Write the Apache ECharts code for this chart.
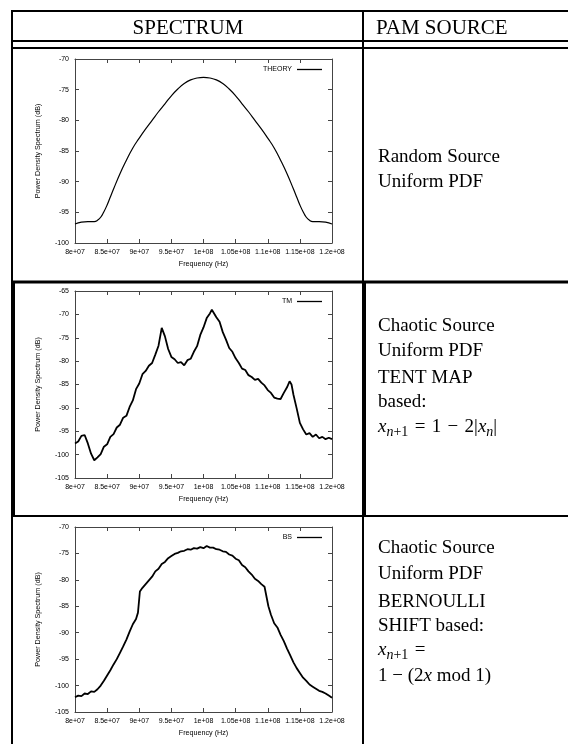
<!DOCTYPE html>
<html>
<head>
<meta charset="utf-8">
<script src="https://cdn.jsdelivr.net/npm/echarts@6/dist/echarts.min.js"></script>
<style>
html,body{margin:0;padding:0;background:#fff;}
#c{width:568px;height:744px;}
</style>
</head>
<body>
<div id="c"></div>
<script>
// ---------- data ----------
const xTickLabels = ['8e+07','8.5e+07','9e+07','9.5e+07','1e+08','1.05e+08','1.1e+08','1.15e+08','1.2e+08'];
// frequency in MHz, PSD in dB
const theoryData = [
 [80,-96.9],[81,-96.6],[82,-96.5],[83,-96.5],[83.5,-96.3],[84,-95.8],[84.5,-94.9],[85,-93.8],[85.5,-92.5],[86,-91.2],
 [87,-88.7],[88,-86.5],[89,-84.5],[90,-82.9],[91,-81.4],[92,-80.0],[93,-78.6],[94,-77.3],[95,-76.0],[96,-74.9],
 [97,-74.0],[98,-73.4],[99,-73.1],[100,-73.0],[101,-73.1],[102,-73.4],[103,-74.0],[104,-74.9],[105,-76.0],[106,-77.3],
 [107,-78.6],[108,-80.0],[109,-81.4],[110,-82.9],[111,-84.5],[112,-86.5],[113,-88.7],[114,-91.2],[114.5,-92.5],[115,-93.8],
 [115.5,-94.9],[116,-95.8],[116.5,-96.3],[117,-96.5],[118,-96.5],[119,-96.6],[120,-96.9]
];
const tmData = [
 [80,-97.6],[80.5,-97.2],[81,-96.0],[81.5,-95.8],[82,-97.6],[82.5,-99.8],[83,-101.2],[83.5,-100.6],[84,-99.9],[84.5,-98.3],
 [85,-97.8],[85.5,-96.2],[86,-95.6],[86.5,-94.2],[87,-93.6],[87.5,-92.1],[88,-91.7],[88.5,-89.8],[89,-88.4],[89.5,-86.0],
 [90,-84.8],[90.5,-82.8],[91,-82.1],[91.5,-81.0],[92,-80.4],[92.5,-78.6],[93,-76.7],[93.5,-72.9],[94,-74.7],[94.5,-77.4],
 [95,-79.1],[95.5,-79.6],[96,-80.4],[96.5,-80.2],[97,-80.9],[97.5,-79.8],[98,-79.5],[98.5,-78.0],[99,-76.8],[99.5,-74.4],
 [100,-72.8],[100.5,-70.8],[101,-69.8],[101.3,-69.0],[101.5,-69.3],[102,-70.6],[102.5,-71.6],[103,-73.8],[103.5,-75.4],[104,-77.2],[104.5,-78.0],
 [105,-79.4],[105.5,-80.4],[106,-81.6],[106.5,-81.9],[107,-83.0],[107.5,-83.4],[108,-84.0],[108.5,-83.8],[109,-84.6],[109.5,-85.2],
 [110,-86.2],[110.5,-86.8],[111,-87.8],[111.5,-88.0],[112,-88.1],[112.5,-86.8],[113,-85.6],[113.4,-84.3],[113.7,-85.0],[114,-87.2],[114.5,-90.1],
 [115,-93.2],[115.5,-94.6],[116,-95.7],[116.5,-95.4],[117,-96.2],[117.5,-95.7],[118,-96.5],[118.5,-96.2],[119,-96.7],[119.5,-96.4],[120,-96.7]
];
const bsData = [
 [80,-102.2],[80.5,-101.9],[81,-102.0],[81.5,-101.5],[82,-101.6],[82.5,-101.1],[83,-101.2],[83.5,-100.7],[84,-100.0],[84.5,-99.1],
 [85,-98.1],[85.5,-97.1],[86,-96.0],[86.5,-95.0],[87,-93.8],[87.5,-92.6],[88,-91.3],[88.5,-89.8],[89,-88.4],[89.5,-87.4],
 [89.8,-86.2],[90.1,-82.2],[90.5,-81.5],[91,-80.8],[91.5,-80.1],[92,-79.4],[92.5,-78.4],[93,-77.9],[93.5,-77.0],[94,-76.6],[94.5,-75.9],
 [95,-75.5],[95.5,-75.1],[96,-74.9],[96.5,-74.6],[97,-74.5],[97.5,-74.2],[98,-74.3],[98.5,-74.0],[99,-74.1],[99.5,-73.8],
 [100,-74.0],[100.5,-73.6],[101,-73.9],[101.5,-73.9],[102,-74.2],[102.5,-74.3],[103,-74.6],[103.5,-74.7],[104,-75.2],[104.5,-75.4],
 [105,-76.0],[105.5,-76.3],[106,-77.2],[106.5,-77.6],[107,-78.4],[107.5,-79.0],[108,-79.8],[108.5,-80.2],[109,-80.8],[109.5,-81.3],
 [109.8,-81.6],[110.1,-85.0],[110.5,-86.6],[111,-88.2],[111.5,-89.0],[112,-90.4],[112.5,-91.6],[113,-93.0],[113.5,-94.3],[114,-95.6],[114.5,-96.7],
 [115,-97.6],[115.5,-98.5],[116,-99.1],[116.5,-99.8],[117,-100.2],[117.5,-100.6],[118,-101.0],[118.5,-101.2],[119,-101.5],[119.5,-101.9],[120,-102.3]
];
const seriesNames = ['THEORY','TM','BS'];
const yRanges = [[-100,-70],[-105,-65],[-105,-70]];
const headerTexts = ['SPECTRUM','PAM SOURCE'];

// ---------- layout ----------
const grids = [
  {left:75, top:59, width:257, height:184},
  {left:75, top:291, width:257, height:187},
  {left:75, top:527, width:257, height:185}
];
const tickFont = {fontSize:7, color:'#000', fontFamily:'Liberation Sans'};
const frame = {show:true, lineStyle:{color:'#444', width:1}};
const tick = {show:true, inside:true, length:4, lineStyle:{color:'#444', width:1}};

const xAxis = [], yAxis = [], series = [], legend = [];
const allData = [theoryData, tmData, bsData];
grids.forEach((g, i) => {
  xAxis.push({type:'value', gridIndex:i, min:80, max:120, interval:5, position:'bottom',
    name:'Frequency (Hz)', nameLocation:'middle', nameGap:18,
    nameTextStyle:{fontSize:7.2, fontFamily:'Liberation Sans', color:'#000'},
    axisLine:frame, axisTick:tick, splitLine:{show:false},
    axisLabel:Object.assign({margin:6, formatter:v => xTickLabels[Math.round((v-80)/5)]}, tickFont)});
  xAxis.push({type:'value', gridIndex:i, min:80, max:120, interval:5, position:'top',
    axisLine:frame, axisTick:tick, splitLine:{show:false}, axisLabel:{show:false}});
  yAxis.push({type:'value', gridIndex:i, min:yRanges[i][0], max:yRanges[i][1], interval:5, position:'left',
    name:'Power Density Spectrum (dB)', nameLocation:'middle', nameGap:33, nameRotate:90,
    nameTextStyle:{fontSize:7.2, fontFamily:'Liberation Sans', color:'#000'},
    axisLine:frame, axisTick:tick, splitLine:{show:false},
    axisLabel:Object.assign({margin:6}, tickFont)});
  yAxis.push({type:'value', gridIndex:i, min:yRanges[i][0], max:yRanges[i][1], interval:5, position:'right',
    axisLine:frame, axisTick:tick, splitLine:{show:false}, axisLabel:{show:false}});
  series.push({type:'line', name:seriesNames[i], xAxisIndex:2*i, yAxisIndex:2*i,
    data:allData[i], showSymbol:false, symbol:'none', smooth:i===0,
    lineStyle:{color:'#000', width:i===0?1.2:1.8}, itemStyle:{color:'#000'}});
  legend.push({data:[seriesNames[i]], right:241, top:g.top+2, align:'right', icon:'rect',
    itemWidth:25, itemHeight:1.3, itemGap:0, textStyle:{fontSize:7, fontFamily:'Liberation Sans', color:'#000'},
    itemStyle:{color:'#000'}, selectedMode:false});
});

// ---------- table and texts ----------
const R = (x,y,w,h) => ({type:'rect', shape:{x,y,width:w,height:h}, style:{fill:'#000'}, silent:true});
const serif = 'Liberation Serif';
const T = (x,y,text,size) => ({type:'text', style:{x, y, text, fill:'#000',
  font: size + 'px "' + serif + '"', textVerticalAlign:'middle'}, silent:true});
const rich = {
  r:{fontSize:19, fontFamily:serif, color:'#000', lineHeight:24},
  i:{fontSize:19, fontFamily:serif, fontStyle:'italic', color:'#000', lineHeight:24},
  s:{fontSize:14, fontFamily:serif, fontStyle:'italic', color:'#000', lineHeight:14, verticalAlign:'bottom'},
  u:{fontSize:14, fontFamily:serif, color:'#000', lineHeight:14, verticalAlign:'bottom'}
};
const F = (x,y,text) => ({type:'text', style:{x, y, text, rich, fill:'#000',
  font:'19px "' + serif + '"', textVerticalAlign:'middle'}, silent:true});
const sp = '\u2004';

const graphic = [
  R(11,10,557,2), R(11,40,557,2), R(11,47,557,2), R(11,280.5,557,3), R(11,515,557,2),
  R(11,10,2,734), R(11,281,4,236),
  R(362,10,2,734), R(362,281,4,236),
  {type:'text', style:{x:188, y:28, text:headerTexts[0], fill:'#000', font:'21px "Liberation Serif"', textAlign:'center', textVerticalAlign:'middle'}},
  {type:'text', style:{x:376, y:28, text:headerTexts[1], fill:'#000', font:'21px "Liberation Serif"', textVerticalAlign:'middle'}},
  T(378,157,'Random Source',19), T(378,182,'Uniform PDF',19),
  T(378,326,'Chaotic Source',19), T(378,351,'Uniform PDF',19), T(378,378,'TENT MAP',19), T(378,402,'based:',19),
  F(378,427,'{i|x}{s|n}{u|+1}{r|' + sp + '=' + sp + '1' + sp + '−' + sp + '2|}{i|x}{s|n}{r||}'),
  T(378,548,'Chaotic Source',19), T(378,574,'Uniform PDF',19), T(378,602,'BERNOULLI',19), T(378,626,'SHIFT based:',19),
  F(378,650,'{i|x}{s|n}{u|+1}{r|' + sp + '=}'),
  F(378,676,'{r|1 − (2}{i|x}{r| mod 1)}')
];

const chart = echarts.init(document.getElementById('c'), null, {renderer:'canvas'});
chart.setOption({
  animation:false,
  backgroundColor:'#fff',
  grid:grids,
  xAxis, yAxis, series, legend, graphic
});
</script>
</body>
</html>
